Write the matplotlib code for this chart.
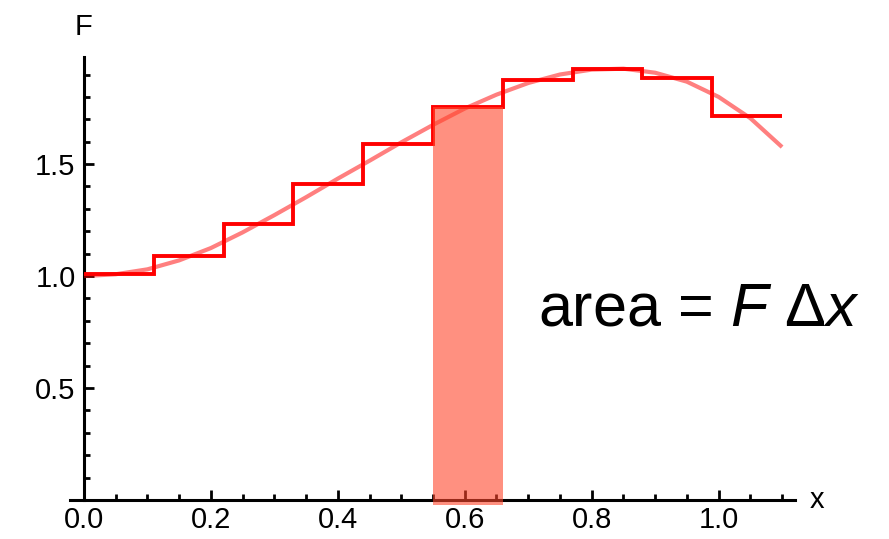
import numpy as np
import matplotlib
matplotlib.use('Agg')
from matplotlib import pyplot as plt
from matplotlib.ticker import MultipleLocator

plt.rcParams['font.family'] = ['Liberation Sans', 'DejaVu Sans']
plt.rcParams['mathtext.fontset'] = 'custom'
plt.rcParams['mathtext.rm'] = 'Liberation Sans'
plt.rcParams['mathtext.it'] = 'Liberation Sans:italic'

# smooth curve
curve_x = [0.00, 0.05, 0.10, 0.15, 0.20, 0.25, 0.30, 0.35, 0.40, 0.45, 0.50, 0.55,
           0.60, 0.65, 0.70, 0.75, 0.80, 0.85, 0.90, 0.95, 1.00, 1.05, 1.10]
curve_y = [1.000, 1.008, 1.030, 1.070, 1.125, 1.195, 1.272, 1.352, 1.435, 1.515, 1.597, 1.675,
           1.748, 1.810, 1.862, 1.900, 1.922, 1.926, 1.908, 1.868, 1.800, 1.705, 1.576]

# step approximation (10 steps of width 0.11)
step_edges = [0.0, 0.11, 0.22, 0.33, 0.44, 0.55, 0.66, 0.77, 0.88, 0.99, 1.10]
step_vals = [1.01, 1.089, 1.232, 1.41, 1.59, 1.754, 1.875, 1.924, 1.884, 1.714]

# highlighted strip
strip_x0, strip_x1 = 0.55, 0.66
strip_val = 1.754

fig = plt.figure(figsize=(8.89, 5.39), dpi=100)
ax = fig.add_axes([0.0787, 0.0599, 0.8153, 0.8351])

ax.bar(strip_x0, strip_val + 0.022, width=strip_x1 - strip_x0, bottom=-0.022,
       align='edge', color=(1.0, 70/255, 43/255), alpha=0.6, linewidth=0, zorder=4)

ax.plot(curve_x, curve_y, color='#ff0000', alpha=0.5, lw=3.0, solid_capstyle='butt', zorder=2)
ax.stairs(step_vals, step_edges, color='#ff0000', lw=2.8, baseline=None, zorder=3)

ax.set_xlim(-0.022, 1.12)
ax.set_ylim(-0.03, 1.98)

for s in ['top', 'right']:
    ax.spines[s].set_visible(False)
ax.spines['left'].set_position(('data', 0))
ax.spines['bottom'].set_position(('data', 0))
ax.spines['left'].set_bounds(0, 1.98)
ax.spines['left'].set_linewidth(2.2)
ax.spines['bottom'].set_linewidth(2.2)
ax.spines['left'].set_zorder(1)
ax.spines['bottom'].set_zorder(1)

ax.xaxis.set_major_locator(MultipleLocator(0.2))
ax.xaxis.set_minor_locator(MultipleLocator(0.05))
ax.yaxis.set_major_locator(MultipleLocator(0.5))
ax.yaxis.set_minor_locator(MultipleLocator(0.1))
ax.set_xticks([0.0, 0.2, 0.4, 0.6, 0.8, 1.0])
ax.set_xticklabels(['0.0', '0.2', '0.4', '0.6', '0.8', '1.0'])
ax.set_yticks([0.5, 1.0, 1.5])
ax.set_yticklabels(['0.5', '1.0', '1.5'])

ax.tick_params(which='both', direction='in', width=2.0, labelsize=21, color='black')
ax.tick_params(which='major', length=7)
ax.tick_params(which='minor', length=4)
ax.tick_params(axis='x', pad=4)
ax.tick_params(axis='y', pad=6)

ax.text(0.0, 2.05, 'F', ha='center', va='bottom', fontsize=21, clip_on=False)
ax.text(1.155, 0.0, 'x', ha='center', va='center', fontsize=21, clip_on=False)

ax.text(0.716, 0.78, r'area = $F\ \Delta x$', fontsize=44, ha='left', va='baseline')

fig.savefig('out.png', dpi=100)
